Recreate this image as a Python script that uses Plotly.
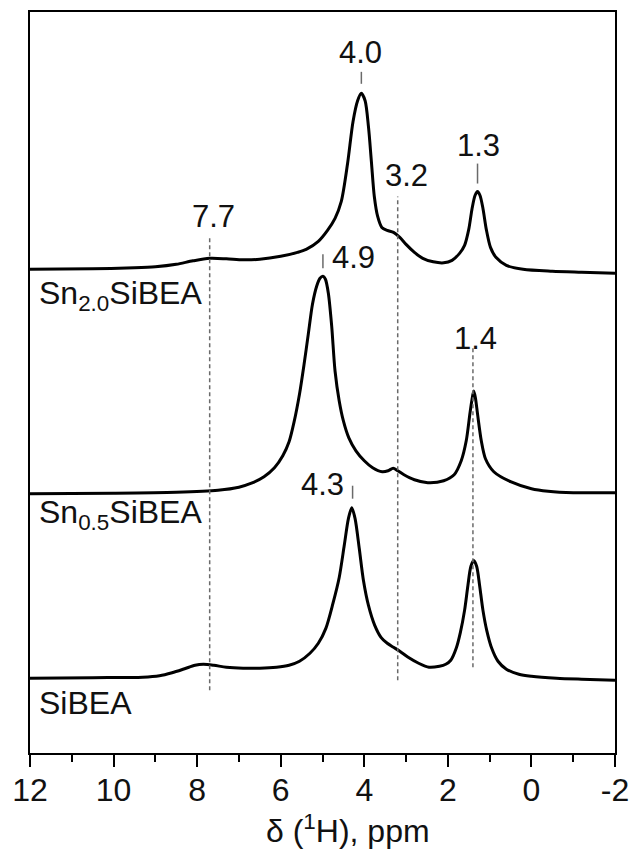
import plotly.graph_objects as go

# ---------------- data ----------------
# chemical shift (ppm) and intensity above each trace's own baseline (arb. units)
ppm_sn20 = [12.0, 10.5, 9.5, 9.0, 8.5, 8.1, 7.7, 7.3, 6.9, 6.5,
            6.0, 5.6, 5.39, 5.1, 4.88, 4.7, 4.55, 4.4, 4.27, 4.16,
            4.07, 3.98, 3.9, 3.83, 3.76, 3.68, 3.58, 3.45, 3.3, 3.15,
            3.0, 2.8, 2.6, 2.35, 2.1, 1.9, 1.72, 1.6, 1.5, 1.42,
            1.35, 1.29, 1.23, 1.16, 1.08, 0.98, 0.85, 0.6, 0.2, -0.5,
            -1.2, -2.0]
int_sn20 = [0, 0.5, 1.5, 2.5, 5, 8.5, 11, 10.5, 9.5, 10,
            13, 17, 20, 28, 39, 51, 68, 106, 148, 169,
            176.5, 169, 143, 108, 73, 53, 42, 39, 37, 32,
            25, 17, 11, 7.5, 6.5, 9, 16, 24, 40, 61,
            74, 78, 74, 61, 40, 22, 12, 4, 0, -2,
            -3, -4]

ppm_sn05 = [12.0, 10.0, 8.5, 7.5, 7.0, 6.7, 6.4, 6.15, 5.95, 5.8,
            5.68, 5.55, 5.44, 5.34, 5.24, 5.14, 5.06, 4.99, 4.93, 4.86,
            4.78, 4.7, 4.6, 4.5, 4.37, 4.2, 4.0, 3.8, 3.57, 3.43,
            3.31, 3.2, 3.05, 2.8, 2.48, 2.1, 1.85, 1.68, 1.56, 1.47,
            1.42, 1.38, 1.34, 1.29, 1.2, 1.1, 0.9, 0.5, 0.0, -0.4,
            -1.0, -2.0]
int_sn05 = [0, 0.5, 1.5, 3.5, 6.5, 10.5, 17, 26, 38, 52,
            72, 100, 130, 160, 190, 208, 216, 218, 215, 201,
            168, 123, 93, 73, 56, 43, 33, 26, 22, 23,
            25.5, 23, 19, 14, 11, 13, 19, 33, 53, 81,
            95, 103, 96, 80, 53, 35, 22, 12, 5, 2.5,
            1, 1]

ppm_sibea = [12.0, 10.5, 9.3, 8.9, 8.6, 8.3, 8.05, 7.85, 7.6, 7.3,
             6.9, 6.5, 6.1, 5.8, 5.55, 5.3, 5.1, 4.92, 4.75, 4.6,
             4.48, 4.38, 4.3, 4.22, 4.12, 4.02, 3.9, 3.75, 3.6, 3.45,
             3.3, 3.15, 2.95, 2.7, 2.45, 2.2, 2.05, 1.93, 1.8, 1.7,
             1.6, 1.52, 1.45, 1.38, 1.31, 1.24, 1.16, 1.07, 0.95, 0.8,
             0.6, 0.3, 0.0, -0.6, -1.2, -2.0]
int_sibea = [0, 0.5, 1, 2.5, 5.5, 9.5, 13, 14, 13, 11,
             10, 10, 11, 13, 17, 25, 35, 50, 75, 101,
             133, 160, 171, 160, 130, 98, 73, 53, 41, 35,
             31, 27, 21, 15, 11, 12, 14, 18, 30, 46,
             68, 93, 112, 118, 112, 93, 68, 48, 30, 17,
             9, 4, 2, 0, -1, -2]

# vertical stacking offsets of the three spectra
offsets = {"Sn20": 485, "Sn05": 260, "SiBEA": 75}

# assigned peak positions (dashed guide lines) and their vertical extent
guide_ppm = [7.7, 3.2, 1.4]
guide_y0 = [63, 73, 86]
guide_y1 = [518, 558, 408]

# peak labels: text, x (ppm), y
peak_text = ["4.0", "1.3", "3.2", "7.7", "4.9", "1.4", "4.3"]
peak_x = [4.09, 1.26, 2.99, 7.61, 4.26, 1.35, 4.99]
peak_y = [702, 609, 579, 538, 497, 416, 269]

# short solid markers above peaks: ppm, y0, y1
mark_ppm = [4.07, 1.29, 4.99, 4.28]
mark_y0 = [671, 571, 486, 255]
mark_y1 = [683, 591, 500, 268]

tick_vals = [12, 10, 8, 6, 4, 2, 0, -2]

FONT = "Liberation Sans, Arial, sans-serif"

fig = go.Figure()

for ppm, inten, key in [(ppm_sn20, int_sn20, "Sn20"),
                        (ppm_sn05, int_sn05, "Sn05"),
                        (ppm_sibea, int_sibea, "SiBEA")]:
    fig.add_trace(go.Scatter(
        x=ppm, y=[v + offsets[key] for v in inten], mode="lines",
        line=dict(color="#000000", width=3, shape="spline", smoothing=0.8),
        showlegend=False, hoverinfo="skip"))

for gx, g0, g1 in zip(guide_ppm, guide_y0, guide_y1):
    fig.add_trace(go.Scatter(
        x=[gx, gx], y=[g0, g1], mode="lines",
        line=dict(color="#6a6a6a", width=1.5, dash="4px,3px"),
        showlegend=False, hoverinfo="skip"))

for mx, m0, m1 in zip(mark_ppm, mark_y0, mark_y1):
    fig.add_trace(go.Scatter(
        x=[mx, mx], y=[m0, m1], mode="lines",
        line=dict(color="#6a6a6a", width=1.5),
        showlegend=False, hoverinfo="skip"))

for t, x, y in zip(peak_text, peak_x, peak_y):
    fig.add_annotation(x=x, y=y, xref="x", yref="y", text=t, showarrow=False,
                       font=dict(family=FONT, size=31, color="#111111"),
                       xanchor="center", yanchor="middle")

sample_labels = [("Sn<sub>2.0</sub>SiBEA", 459), ("Sn<sub>0.5</sub>SiBEA", 239), ("SiBEA", 50)]
for t, y in sample_labels:
    fig.add_annotation(x=0.012, y=y, xref="paper", yref="y", text=t, showarrow=False,
                       font=dict(family=FONT, size=32, color="#111111"),
                       xanchor="left", yanchor="middle")

fig.add_annotation(x=4.4, y=-0.103, xref="x", yref="paper", text="δ (<sup>1</sup>H), ppm",
                   showarrow=False, font=dict(family=FONT, size=32, color="#111111"),
                   xanchor="center", yanchor="middle")

fig.update_xaxes(range=[12, -2], tickvals=tick_vals, ticktext=[str(v) for v in tick_vals],
                 ticks="outside", ticklen=12, tickwidth=2, tickcolor="#000",
                 minor=dict(dtick=1, ticks="outside", ticklen=7, tickwidth=2, tickcolor="#000"),
                 showline=True, linewidth=2, linecolor="#000", mirror=True,
                 showgrid=False, zeroline=False, ticklabelstandoff=-4,
                 tickfont=dict(family=FONT, size=32, color="#111111"))
fig.update_yaxes(range=[0, 743], showticklabels=False, ticks="",
                 showline=True, linewidth=2, linecolor="#000", mirror=True,
                 showgrid=False, zeroline=False)

fig.update_layout(width=639, height=850,
                  margin=dict(l=30, r=16, t=10, b=97),
                  plot_bgcolor="white", paper_bgcolor="white",
                  font=dict(family=FONT))

fig.write_html("out.html")
